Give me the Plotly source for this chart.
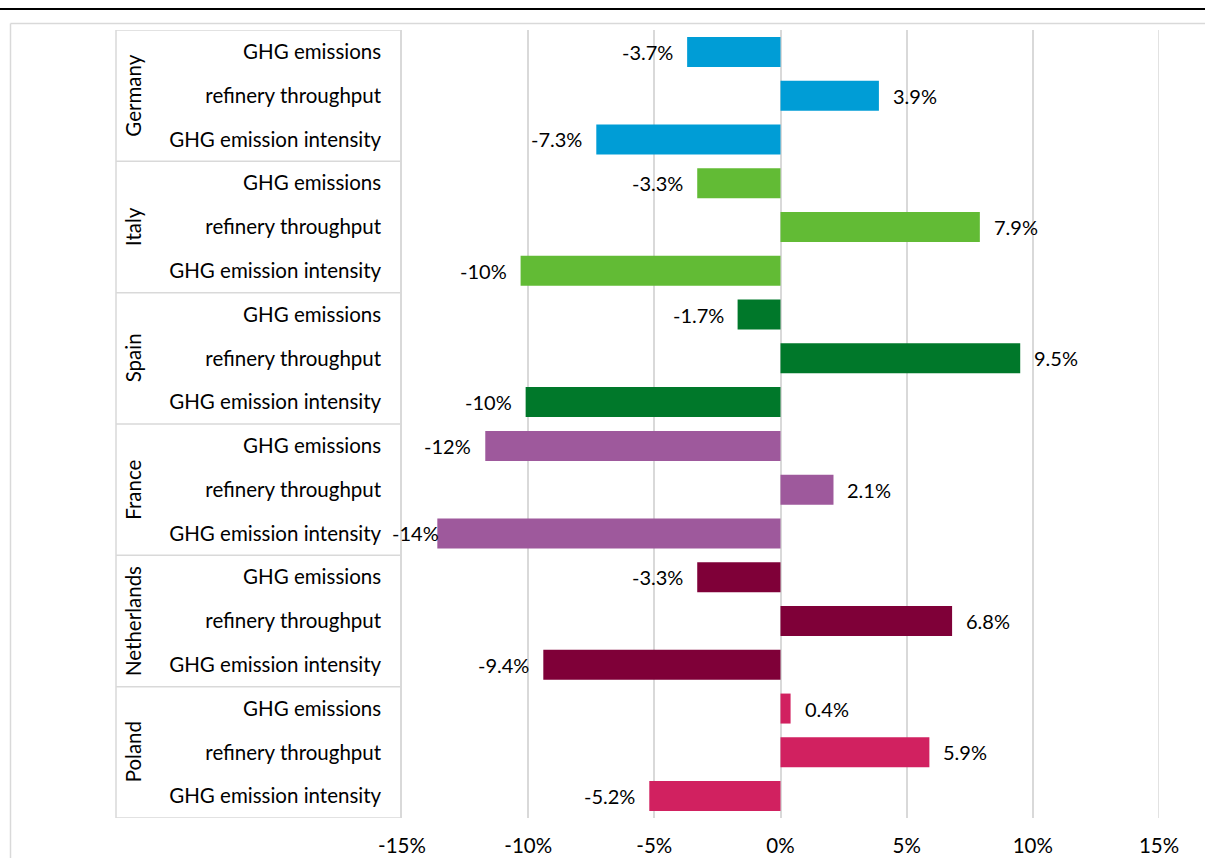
import plotly.graph_objects as go

countries = ["Germany", "Italy", "Spain", "France", "Netherlands", "Poland"]
metrics = ["GHG emissions", "refinery throughput", "GHG emission intensity"]
country_colors = ["#009DD6", "#62BB35", "#00782A", "#9E599C", "#7F0038", "#D12160"]

germany = [-3.7, 3.9, -7.3]
italy = [-3.3, 7.9, -10.3]
spain = [-1.7, 9.5, -10.1]
france = [-11.7, 2.1, -13.6]
netherlands = [-3.3, 6.8, -9.4]
poland = [0.4, 5.9, -5.2]
series = [germany, italy, spain, france, netherlands, poland]

x_tickvals = [-15, -10, -5, 0, 5, 10, 15]
x_ticktext = ["-15%", "-10%", "-5%", "0%", "5%", "10%", "15%"]

FONT = "Lato"
FS = 20.5
W, H = 1205, 858
L, R, T, B = 402, 46, 30, 40
PW, PH = W - L - R, H - T - B
XMIN, XMAX = -15, 15


def px_x(p):
    return (p - L) / PW


def px_y(p):
    return (H - B - p) / PH


def fmt(v):
    return f"{v:.1f}%" if abs(v) < 10 else f"{v:.0f}%"


ys, xs, cols, ticktext = [], [], [], []
for gi, (c, vals) in enumerate(zip(countries, series)):
    for mi, v in enumerate(vals):
        ys.append(gi * 3 + mi)
        xs.append(v)
        cols.append(country_colors[gi])
        ticktext.append(metrics[mi])

fig = go.Figure()
fig.add_trace(go.Bar(x=xs, y=ys, orientation="h", marker=dict(color=cols, line=dict(width=0)),
                     hoverinfo="skip"))

annotations = []
for x, y in zip(xs, ys):
    txt = fmt(x)
    if x >= 0:
        shift = 12
    else:
        # keep the label from running past the left edge of the value area (as in the source)
        bar_px = (x - XMIN) / (XMAX - XMIN) * PW
        est_w = 11.0 * len(txt)
        shift = -12
        if bar_px - 12 - est_w < -5:
            shift = -(bar_px + 5 - est_w)
    annotations.append(dict(x=x, y=y, xref="x", yref="y", text=txt, showarrow=False,
                            xanchor="left" if x >= 0 else "right", xshift=shift,
                            font=dict(family=FONT, size=20, color="#000000")))
for gi, c in enumerate(countries):
    annotations.append(dict(x=px_x(133), y=gi * 3 + 1, xref="paper", yref="y", text=c,
                            textangle=-90, showarrow=False, xanchor="center", yanchor="middle",
                            font=dict(family=FONT, size=FS, color="#000000")))

GRID = "#D9D9D9"
shapes = [
    dict(type="line", xref="paper", yref="paper", x0=px_x(0), x1=px_x(W), y0=px_y(9), y1=px_y(9),
         line=dict(color="#000000", width=2)),
    dict(type="line", xref="paper", yref="paper", x0=px_x(10.5), x1=px_x(W), y0=px_y(23.5),
         y1=px_y(23.5), line=dict(color=GRID, width=1.5), layer="below"),
    dict(type="line", xref="paper", yref="paper", x0=px_x(10.5), x1=px_x(10.5), y0=px_y(23.5),
         y1=px_y(H), line=dict(color=GRID, width=1.5), layer="below"),
    dict(type="line", xref="paper", yref="paper", x0=px_x(116), x1=px_x(116), y0=0, y1=1,
         line=dict(color=GRID, width=1.5)),
    dict(type="line", xref="x", yref="paper", x0=XMAX, x1=XMAX, y0=0, y1=1,
         line=dict(color=GRID, width=1.5), layer="below"),
]
for g in range(len(countries) + 1):
    yb = g * 3 - 0.5
    shapes.append(dict(type="line", xref="paper", yref="y", x0=px_x(116), x1=0, y0=yb, y1=yb,
                       line=dict(color=GRID, width=1.5)))

fig.update_layout(
    width=W, height=H,
    margin=dict(l=L, r=R, t=T, b=B, pad=0, autoexpand=False),
    paper_bgcolor="white", plot_bgcolor="white",
    showlegend=False, bargap=0.315,
    font=dict(family=FONT, size=FS, color="#000000"),
    annotations=annotations, shapes=shapes,
    xaxis=dict(range=[XMIN, XMAX], tickvals=x_tickvals, ticktext=x_ticktext, showgrid=True,
               gridcolor=GRID, gridwidth=1.5, zeroline=True, zerolinecolor=GRID, zerolinewidth=1.5,
               showline=False, ticks="", ticklabelstandoff=13, fixedrange=True, automargin=False,
               tickfont=dict(family=FONT, size=FS, color="#000000")),
    yaxis=dict(range=[17.5, -0.5], tickvals=ys, ticktext=ticktext, showgrid=False, zeroline=False,
               showline=True, linecolor=GRID, linewidth=1.5, ticks="", ticklabelstandoff=15,
               automargin=False, tickfont=dict(family=FONT, size=FS, color="#000000")),
)

fig.write_html("out.html")
